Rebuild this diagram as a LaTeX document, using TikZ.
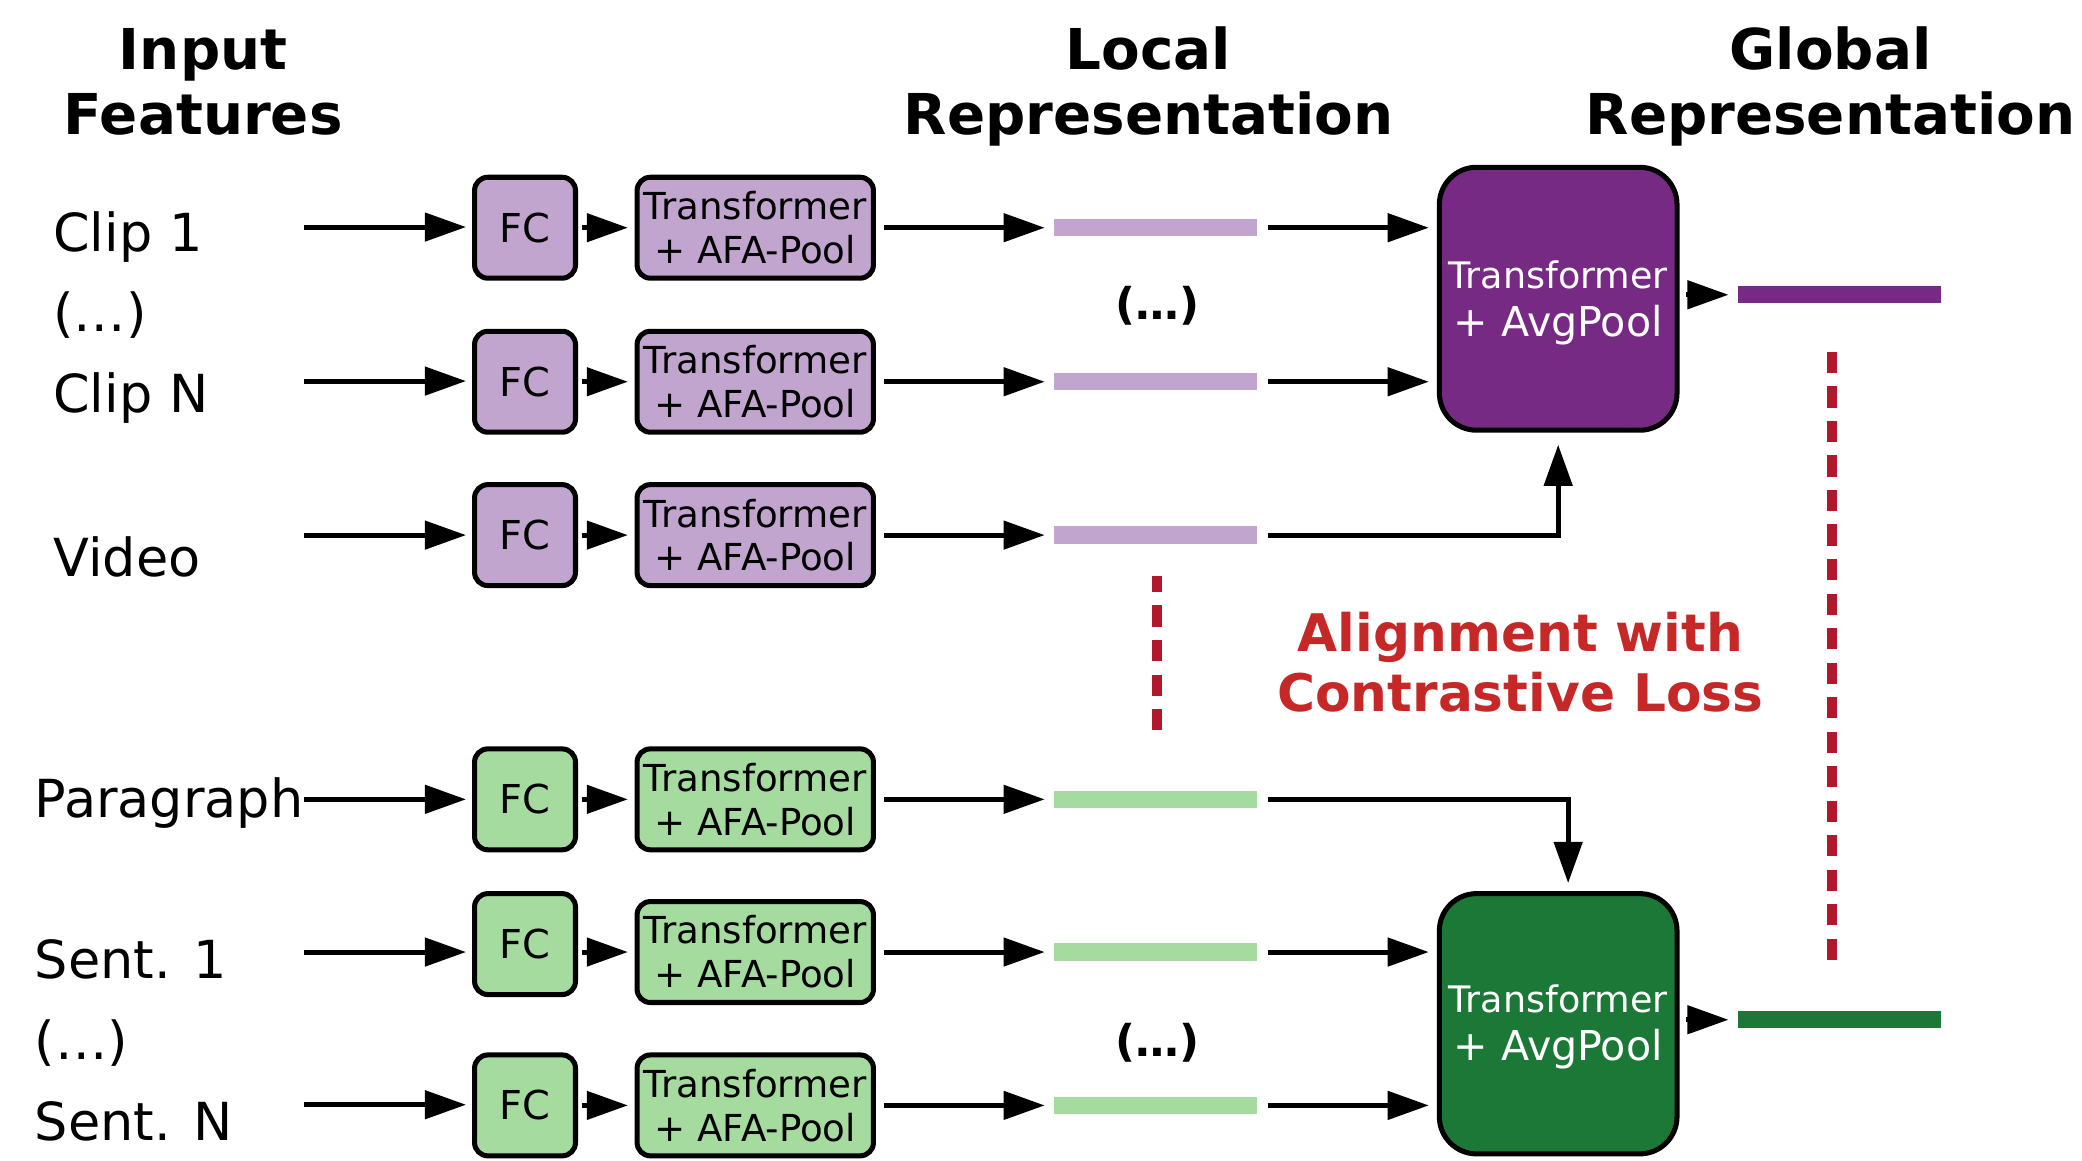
\documentclass[tikz,border=0pt]{standalone}
\usepackage{fontspec}
\setmainfont{DejaVu Sans}
\usetikzlibrary{arrows.meta}
\definecolor{lpur}{HTML}{C2A5CF}
\definecolor{dpur}{HTML}{762A83}
\definecolor{lgrn}{HTML}{A6DBA0}
\definecolor{dgrn}{HTML}{1B7837}
\definecolor{dashred}{HTML}{B2182B}
\definecolor{txtred}{HTML}{C62828}
\begin{document}
\begin{tikzpicture}[x=1pt,y=-1pt,
 conn/.style={line width=3.8pt,-{Triangle[length=31pt,width=21pt]}},
 fcbox/.style={draw,line width=3.8pt,rounded corners=10pt,minimum width=76pt,minimum height=76pt,inner sep=0pt,font=\fontsize{30}{36}\selectfont},
 tbox/.style={draw,line width=3.8pt,rounded corners=10pt,minimum width=178pt,minimum height=76pt,inner sep=0pt,align=center,font=\fontsize{28}{33}\selectfont},
 bigbox/.style={draw,line width=3.8pt,rounded corners=28pt,minimum width=179pt,inner sep=0pt},
 btxtA/.style={anchor=base,inner sep=0pt,text=white,font=\fontsize{27.5}{33}\selectfont},
 btxtB/.style={anchor=base,inner sep=0pt,text=white,font=\fontsize{31}{36}\selectfont},
 bar/.style={minimum width=153pt,minimum height=13pt,inner sep=0pt},
 lbl/.style={anchor=base west,inner sep=0pt,font=\fontsize{39.5}{46}\selectfont},
 head/.style={anchor=base,inner sep=0pt,font=\bfseries\fontsize{42.4}{50}\selectfont},
 dots/.style={anchor=base,inner sep=0pt,font=\bfseries\fontsize{33}{40}\selectfont},
 redtxt/.style={anchor=base,inner sep=0pt,text=txtred,font=\bfseries\fontsize{39}{45}\selectfont},
 lossdash/.style={dashred,line width=7.5pt,dash pattern=on 16pt off 10pt},
]
\useasboundingbox (0,0) rectangle (1568,874);

% headings
\node[head] (h1a) at (153,52) {Input};
\node[head] (h1b) at (153,101) {Features};
\node[head] (h2a) at (865,52) {Local};
\node[head] (h2b) at (865,101) {Representation};
\node[head] (h3a) at (1378.5,52) {Global};
\node[head] (h3b) at (1378.5,101) {Representation};

% left labels
\node[lbl] (l1) at (40,189.5) {Clip 1};
\node[lbl] (l1d) at (40,250) {(…)};
\node[lbl] (l2) at (40,311) {Clip N};
\node[lbl] (l3) at (40,434) {Video};
\node[lbl] (l4) at (26,616) {Paragraph};
\node[lbl] (l5) at (26,737) {Sent. 1};
\node[lbl] (l5d) at (26,798) {(…)};
\node[lbl] (l6) at (26,859) {Sent. N};

% input start points
\coordinate (in1) at (229,171);
\coordinate (in2) at (229,287);
\coordinate (in3) at (229,403);
\coordinate (in4) at (229,602);
\coordinate (in5) at (229,717);
\coordinate (in6) at (229,832);

% FC boxes
\node[fcbox,fill=lpur] (fc1) at (395.4,171.5) {FC};
\node[fcbox,fill=lpur] (fc2) at (395.4,287.5) {FC};
\node[fcbox,fill=lpur] (fc3) at (395.4,403) {FC};
\node[fcbox,fill=lgrn] (fc4) at (395.4,602) {FC};
\node[fcbox,fill=lgrn] (fc5) at (395.4,711) {FC};
\node[fcbox,fill=lgrn] (fc6) at (395.4,832.5) {FC};

% Transformer boxes
\node[tbox,fill=lpur] (t1) at (568.8,171.5) {Transformer\\+ AFA-Pool};
\node[tbox,fill=lpur] (t2) at (568.8,287.5) {Transformer\\+ AFA-Pool};
\node[tbox,fill=lpur] (t3) at (568.8,403) {Transformer\\+ AFA-Pool};
\node[tbox,fill=lgrn] (t4) at (568.8,602) {Transformer\\+ AFA-Pool};
\node[tbox,fill=lgrn] (t5) at (568.8,717) {Transformer\\+ AFA-Pool};
\node[tbox,fill=lgrn] (t6) at (568.8,832.5) {Transformer\\+ AFA-Pool};

% local bars
\node[bar,fill=lpur] (b1) at (870.5,171.5) {};
\node[bar,fill=lpur] (b2) at (870.5,287.5) {};
\node[bar,fill=lpur] (b3) at (870.5,403) {};
\node[bar,fill=lgrn] (b4) at (870.5,602) {};
\node[bar,fill=lgrn] (b5) at (870.5,717) {};
\node[bar,fill=lgrn] (b6) at (870.5,832.5) {};

\node[dots] (d1) at (872,241) {(…)};
\node[dots] (d2) at (872,796) {(…)};

% global boxes
\node[bigbox,fill=dpur,minimum height=198pt] (gP) at (1173.5,225) {};
\node[btxtA] (gPa) at (1173.5,217) {Transformer};
\node[btxtB] (gPb) at (1173.5,253.5) {+ AvgPool};
\node[bigbox,fill=dgrn,minimum height=196pt] (gG) at (1173.5,771) {};
\node[btxtA] (gGa) at (1173.5,762.5) {Transformer};
\node[btxtB] (gGb) at (1173.5,799) {+ AvgPool};

\node[bar,fill=dpur] (oP) at (1385.5,222) {};
\node[bar,fill=dgrn] (oG) at (1385.5,768) {};

% loss text
\node[redtxt] (al1) at (1145,491) {Alignment with};
\node[redtxt] (al2) at (1145,536) {Contrastive Loss};

% dashed alignment lines
\coordinate (dA1) at (871.3,434);
\coordinate (dA2) at (871.3,550);
\coordinate (dB1) at (1380,265);
\coordinate (dB2) at (1380,723);
\draw[lossdash,dash phase=4pt] (dA1) -- (dA2);
\draw[lossdash] (dB1) -- (dB2);

% connectors
\foreach \i in {1,2,3,4,6}{
  \draw[conn,shorten >=4.5pt] (in\i) -- (in\i -| fc\i.west);
  \draw[conn,shorten <=3pt,shorten >=5pt] (fc\i.east) -- (t\i.west);
}
\draw[conn,shorten >=4.5pt] (in5) -- (in5 -| fc5.west);
\draw[conn,shorten <=3pt,shorten >=5pt] (t5.west -| fc5.east) -- (t5.west);
\foreach \i in {1,...,6}{
  \draw[conn,shorten <=6.3pt,shorten >=7pt] (t\i.east) -- (b\i.west);
}
\foreach \i in {1,2}{
  \draw[conn,shorten <=7.5pt,shorten >=6pt] (b\i.east) -- (b\i.east -| gP.west);
}
\foreach \i in {5,6}{
  \draw[conn,shorten <=7.5pt,shorten >=6pt] (b\i.east) -- (b\i.east -| gG.west);
}
\draw[conn,shorten <=7.5pt,shorten >=9pt] (b3.east) -| (gP.south);
\draw[conn,shorten <=7.5pt,shorten >=6pt] (b4.east) -| ([xshift=7.5pt]gG.north);
\draw[conn,shorten <=5pt,shorten >=7pt] (oP.west -| gP.east) -- (oP.west);
\draw[conn,shorten <=5pt,shorten >=7pt] (oG.west -| gG.east) -- (oG.west);
\end{tikzpicture}
\end{document}
